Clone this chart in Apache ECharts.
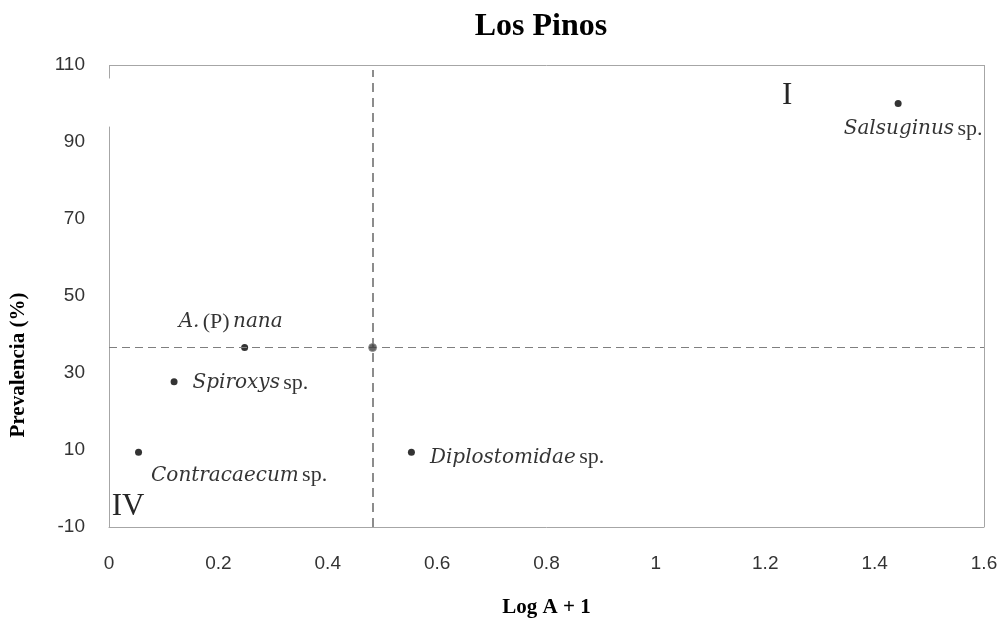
<!DOCTYPE html>
<html>
<head>
<meta charset="utf-8">
<title>Los Pinos</title>
<script src="https://cdn.jsdelivr.net/npm/echarts@6/dist/echarts.min.js"></script>
<style>
  html, body { margin: 0; padding: 0; background: #fff; }
  #chart { width: 1003px; height: 624px; }
</style>
</head>
<body>
<div id="chart"></div>
<script>
// Olmstead-Tukey quadrants for the parasites of Los Pinos
const taxa       = ['Salsuginus', 'A. (P) nana', 'Spiroxys', 'Contracaecum', 'Diplostomidae'];
const logAbund   = [1.443, 0.248, 0.119, 0.054, 0.553];   // Log A + 1
const prevalence = [100, 36.6, 27.7, 9.4, 9.4];          // %
const meanLog    = 0.482;
const meanPrev   = 36.6;

const xTicks = { min: 0, max: 1.6, interval: 0.2 };
const yTicks = { min: -10, max: 110, interval: 20 };

// label text per taxon: italic genus, upright "sp."
const labelText = {
  'Salsuginus':    '{i|Salsuginus} {n|sp.}',
  'A. (P) nana':   '{i|A.} {n|(P)} {i|nana}',
  'Spiroxys':      '{i|Spiroxys} {n|sp.}',
  'Contracaecum':  '{i|Contracaecum} {n|sp.}',
  'Diplostomidae': '{i|Diplostomidae} {n|sp.}'
};
const labelPlace = {
  'Salsuginus':    { position: 'bottom', distance: 2, offset: [15, 9] },
  'A. (P) nana':   { position: 'top', distance: 8, offset: [-14, -3] },
  'Spiroxys':      { position: 'right', distance: 15, offset: [0, 1] },
  'Contracaecum':  { position: 'right', distance: 9, offset: [0, 23] },
  'Diplostomidae': { position: 'right', distance: 15, offset: [0, 5] }
};

const serif = '"Liberation Serif", "DejaVu Serif", serif';
const sans = '"Liberation Sans", Arial, sans-serif';
const richStyles = {
  i: { fontFamily: '"DejaVu Serif", serif', fontStyle: 'italic', fontSize: 20, color: '#000' },
  n: { fontFamily: serif, fontSize: 22, color: '#000' }
};

const points = taxa.map((name, k) => ({
  name: name,
  value: [logAbund[k], prevalence[k]],
  label: Object.assign({
    show: true,
    formatter: labelText[name],
    rich: richStyles
  }, labelPlace[name])
}));

const frame = { color: '#a6a6a6', type: 'solid', width: 1 };

const chart = echarts.init(document.getElementById('chart'), null, { renderer: 'canvas' });
chart.setOption({
  animation: false,
  backgroundColor: '#fff',
  title: {
    text: 'Los Pinos',
    left: 536, top: 6, textAlign: 'center',
    textStyle: { fontFamily: serif, fontWeight: 'bold', fontSize: 32, color: '#000' }
  },
  grid: { left: 108, right: 19, top: 65, bottom: 97, show: false },
  xAxis: {
    type: 'value',
    min: xTicks.min, max: xTicks.max, interval: xTicks.interval,
    name: 'Log A + 1',
    nameLocation: 'middle', nameGap: 70,
    nameTextStyle: { fontFamily: serif, fontWeight: 'bold', fontSize: 21, color: '#000' },
    axisLine: { show: true, onZero: false, lineStyle: { color: '#a6a6a6' } },
    axisTick: { show: false },
    splitLine: { show: false },
    axisLabel: {
      margin: 27, color: '#333', fontSize: 19, fontFamily: sans,
      formatter: v => String(Math.round(v * 10) / 10)
    }
  },
  yAxis: {
    type: 'value',
    min: yTicks.min, max: yTicks.max, interval: yTicks.interval,
    name: 'Prevalencia (%)',
    nameLocation: 'middle', nameGap: 80, nameRotate: 90,
    nameTextStyle: {
      fontFamily: serif, fontWeight: 'bold', fontSize: 21, color: '#000',
      padding: [0, 138, 0, 0]
    },
    axisLine: { show: false, onZero: false },
    axisTick: { show: false },
    splitLine: { show: false },
    axisLabel: { margin: 24, color: '#333', fontSize: 19, fontFamily: sans }
  },
  series: [
    {
      name: 'frame',
      type: 'scatter',
      data: [],
      silent: true,
      markLine: {
        silent: true, symbol: ['none', 'none'], label: { show: false },
        lineStyle: frame,
        data: [
          [{ coord: [xTicks.min, yTicks.max] }, { coord: [xTicks.max, yTicks.max] }],
          [{ coord: [xTicks.max, yTicks.min] }, { coord: [xTicks.max, yTicks.max] }],
          [{ coord: [xTicks.min, yTicks.min] }, { coord: [xTicks.min, 94] }],
          [{ coord: [xTicks.min, 106.5] }, { coord: [xTicks.min, yTicks.max] }]
        ]
      }
    },
    {
      name: 'medias',
      type: 'scatter',
      data: [[meanLog, meanPrev]],
      symbolSize: 8,
      itemStyle: { color: '#404040', borderColor: '#8c8c8c', borderWidth: 1 },
      z: 5,
      markLine: {
        silent: true, symbol: ['none', 'none'], label: { show: false },
        data: [
          [{ coord: [xTicks.min, meanPrev], lineStyle: { color: '#7f7f7f', type: [8, 5], width: 1.2 } },
           { coord: [xTicks.max, meanPrev] }],
          [{ coord: [meanLog, yTicks.min], lineStyle: { color: '#8c8c8c', type: [9, 6], width: 2 } },
           { coord: [meanLog, 108.7] }]
        ]
      },
      markPoint: {
        silent: true, symbol: 'rect', symbolSize: 0,
        label: { show: true, fontFamily: serif, fontSize: 31, color: '#262626' },
        data: [
          { coord: [1.24, 102], value: 'I', label: { formatter: 'I' } },
          { coord: [0.035, -4.8], value: 'IV', label: { formatter: 'IV' } }
        ]
      }
    },
    {
      name: 'taxa',
      type: 'scatter',
      data: points,
      symbolSize: 7,
      itemStyle: { color: '#000' }
    }
  ]
});
</script>
</body>
</html>
